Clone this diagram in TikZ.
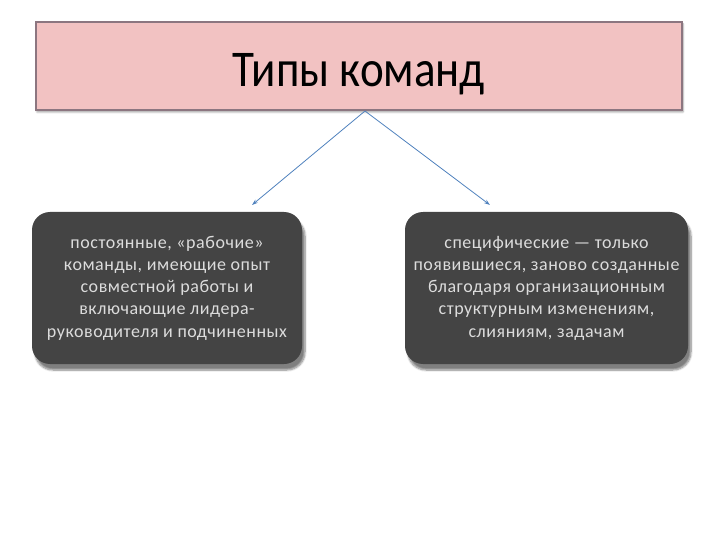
\documentclass[tikz,border=0pt]{standalone}
\usepackage{fontspec}
\setmainfont{Carlito}
\newfontfamily\boxfont[LetterSpace=3]{Carlito}
\usetikzlibrary{arrows.meta,shadows.blur}
\definecolor{titlepink}{RGB}{242,194,194}
\definecolor{titleedge}{RGB}{140,118,128}
\definecolor{boxgray}{RGB}{68,68,68}
\definecolor{boxtext}{RGB}{220,220,220}
\definecolor{linkblue}{RGB}{79,129,189}

\begin{document}
\begin{tikzpicture}[x=1pt,y=-1pt]
\tikzset{titlebox/.style={draw=titleedge,line width=1.4pt,fill=titlepink,
  minimum width=646pt,minimum height=88pt,inner sep=0pt,
  font=\fontsize{46}{46}\selectfont,
  blur shadow={shadow xshift=1pt,shadow yshift=-2pt,shadow blur steps=4}}}
\tikzset{typebox/.style={fill=boxgray,rounded corners=18pt,text=boxtext,
  align=center,inner sep=0pt,minimum height=152pt,
  font=\boxfont\fontsize{18}{22.3}\selectfont,
  blur shadow={shadow xshift=3pt,shadow yshift=-6pt,shadow blur steps=8,shadow opacity=50}}}
\tikzset{link/.style={draw=linkblue,line width=0.8pt,-{Stealth[length=6pt,width=4pt]}}}
\useasboundingbox (0,0) rectangle (720,540);
% heading
\node[titlebox] (title) at (359,66) {\smash{\raisebox{-21pt}{\scalebox{0.98}[1.12]{Типы команд}}}};
% the two kinds
\node[typebox,minimum width=270pt] (steady) at (167,288)
  {постоянные, «рабочие»\\команды, имеющие опыт\\совместной работы и\\включающие лидера-\\руководителя и подчиненных};
\node[typebox,minimum width=283pt] (special) at (546.5,288)
  {специфические — только\\появившиеся, заново созданные\\благодаря организационным\\структурным изменениям,\\слияниям, задачам};
\coordinate (apex) at (365,111);
\coordinate (leftend) at (252,205);
\coordinate (rightend) at (490,205);
\draw[link] (apex) -- (leftend);
\draw[link] (apex) -- (rightend);
\end{tikzpicture}
\end{document}
